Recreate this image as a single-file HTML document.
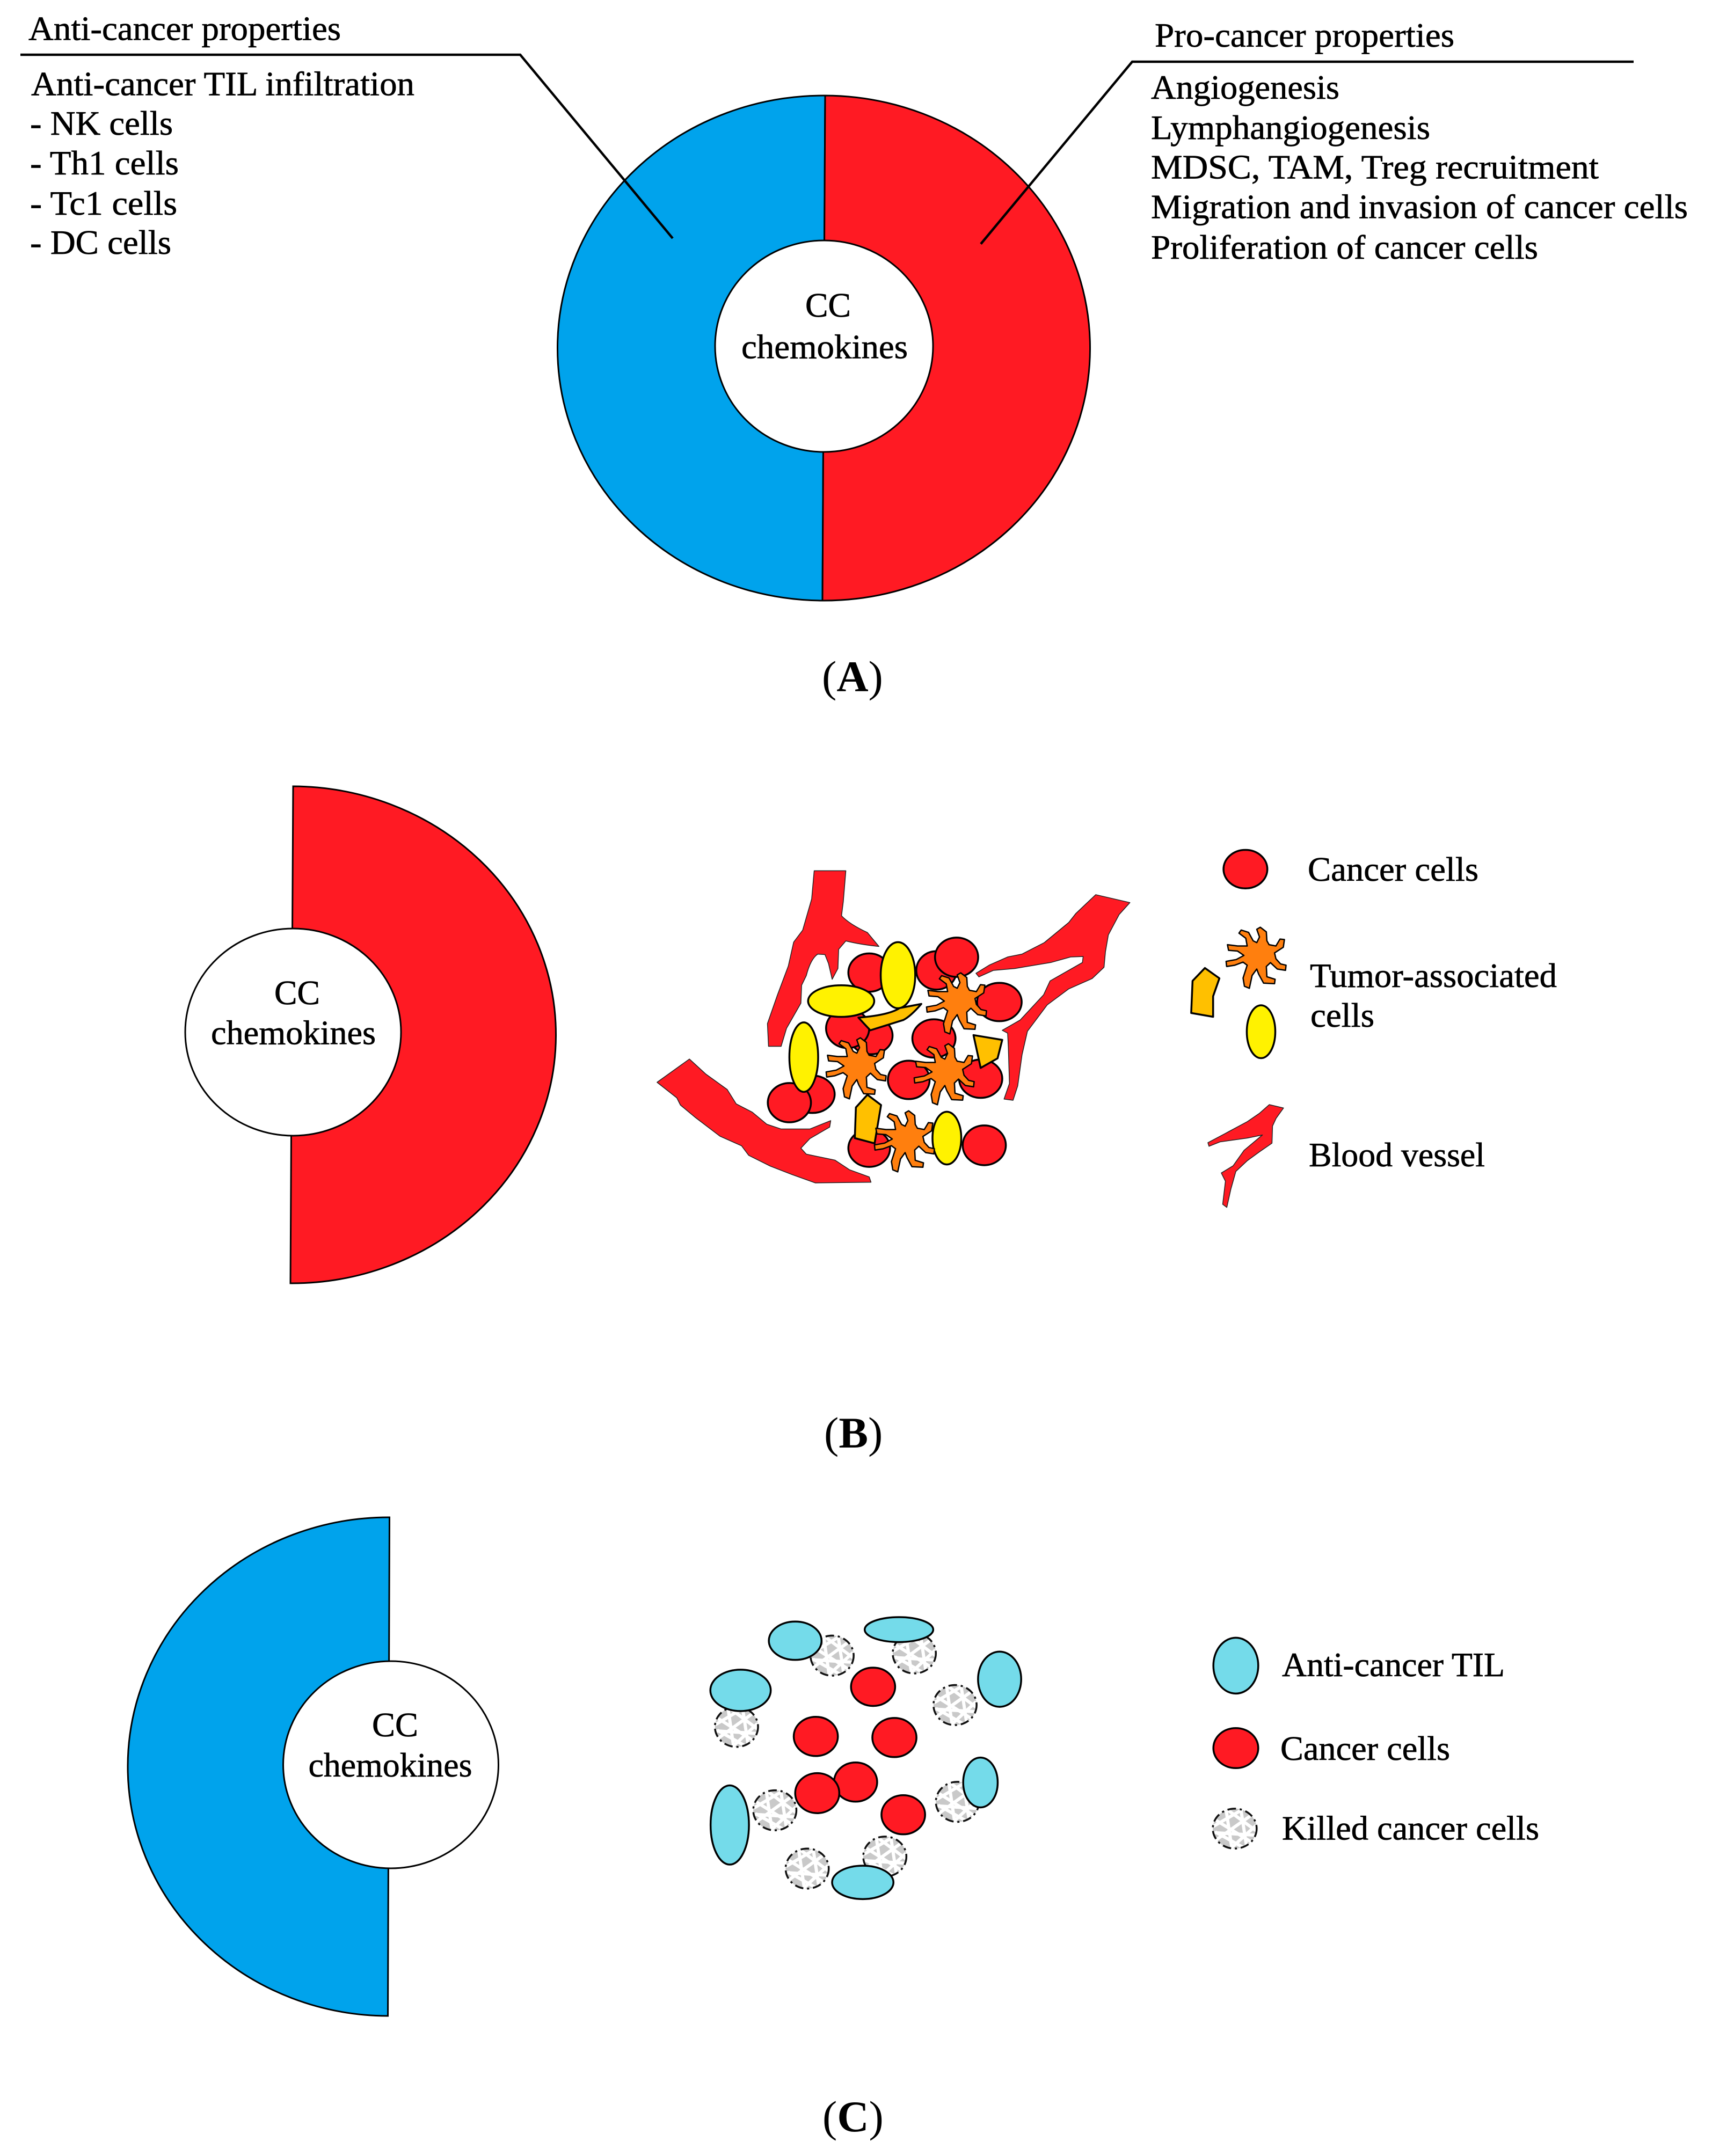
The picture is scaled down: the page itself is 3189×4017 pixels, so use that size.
<!DOCTYPE html>
<html lang="en">
<head>
<meta charset="utf-8">
<title>CC chemokines pro-cancer and anti-cancer properties</title>
<style>
  html, body { margin: 0; padding: 0; background: #fff; }
  svg { display: block; }
  svg * { vector-effect: non-scaling-stroke; }
  text { font-family: "Liberation Serif", "Times New Roman", serif; font-size: 64px; fill: #000; stroke: #000; stroke-width: .7; }
  .cap { font-size: 82px; stroke-width: 0; }
  .red { fill: #ff1a23; }
  .blue { fill: #00a3ec; }
  .ln { stroke: #000; stroke-width: 3; }
  .cell-outline { stroke: #000; stroke-width: 3.5; stroke-linejoin: round; }
  .vessel { fill: #ff1a23; stroke: #222; stroke-width: 1.5; stroke-linejoin: round; }
  .cancer { fill: #ff1a23; }
  .yellow { fill: #fff200; }
  .gold { fill: #ffc000; }
  .orange { fill: #ff7f0e; }
  .til { fill: #74dbea; }
</style>
</head>
<body>
<svg xmlns="http://www.w3.org/2000/svg" width="3189" height="4017" viewBox="0 0 3189 4017">
  <defs>
    <path id="star" class="orange cell-outline" style="stroke-width:2.5" transform="scale(.51,.478) translate(-375,-490)"
      d="M340,445 L335,415 L310,395 L318,383 L345,392 L362,425 L375,432 L385,410 L375,380 L388,372 L410,390 L412,425 L420,440 L445,445 L460,418 L476,420 L472,450 L440,472 L445,495 L462,515 L482,520 L480,540 L450,535 L425,510 L410,525 L412,565 L442,575 L440,592 L400,590 L382,555 L375,535 L358,560 L348,610 L330,602 L325,570 L340,520 L325,508 L295,520 L265,525 L263,505 L300,498 L328,482 L305,465 L272,462 L268,440 L305,445 Z"/>
    <g id="killed">
      <circle r="90" fill="#c9c9c9"/>
      <g stroke="#fff" stroke-width="6" fill="none">
        <line x1="-88" y1="-45" x2="70" y2="62"/>
        <line x1="-80" y1="15" x2="35" y2="85"/>
        <line x1="-30" y1="-85" x2="88" y2="10"/>
        <line x1="70" y1="-62" x2="-75" y2="50"/>
        <line x1="30" y1="-85" x2="-88" y2="-10"/>
        <line x1="88" y1="-15" x2="-15" y2="88"/>
        <line x1="-35" y1="-82" x2="-12" y2="88"/>
        <line x1="25" y1="-88" x2="48" y2="76"/>
        <line x1="-88" y1="18" x2="88" y2="30"/>
      </g>
      <circle r="90" fill="none" stroke="#111" stroke-width="3.5" stroke-dasharray="16 7 4 7"/>
    </g>
  </defs>

  <rect width="3189" height="4017" fill="#fff"/>

  <!-- Panel A -->
  <g>
    <path class="blue ln" d="M1537,178 A496,470.5 0 0 0 1532,1119 Z"/>
    <path class="red ln" d="M1537,178 A496,470.5 0 0 1 1532,1119 Z"/>
    <ellipse cx="1535" cy="645" rx="203" ry="197" fill="#fff" class="ln"/>
    <text x="1500" y="590" textLength="85" lengthAdjust="spacingAndGlyphs">CC</text>
    <text x="1381" y="667.5" textLength="310" lengthAdjust="spacingAndGlyphs">chemokines</text>

    <polyline points="38,102 969,102 1253,444" fill="none" stroke="#000" stroke-width="4.5"/>
    <polyline points="1827,454.5 2109,115 3043,115" fill="none" stroke="#000" stroke-width="4.5"/>

    <text x="53" y="74.6" textLength="582" lengthAdjust="spacingAndGlyphs">Anti-cancer properties</text>
    <text x="58" y="177.5" textLength="714" lengthAdjust="spacingAndGlyphs">Anti-cancer TIL infiltration</text>
    <text x="56" y="251" textLength="266" lengthAdjust="spacingAndGlyphs">- NK cells</text>
    <text x="56" y="325" textLength="277" lengthAdjust="spacingAndGlyphs">- Th1 cells</text>
    <text x="56" y="400" textLength="274" lengthAdjust="spacingAndGlyphs">- Tc1 cells</text>
    <text x="56" y="473" textLength="263" lengthAdjust="spacingAndGlyphs">- DC cells</text>

    <text x="2151" y="87" textLength="558" lengthAdjust="spacingAndGlyphs">Pro-cancer properties</text>
    <text x="2144" y="184" textLength="351" lengthAdjust="spacingAndGlyphs">Angiogenesis</text>
    <text x="2144" y="259" textLength="520" lengthAdjust="spacingAndGlyphs">Lymphangiogenesis</text>
    <text x="2144" y="332.5" textLength="834" lengthAdjust="spacingAndGlyphs">MDSC, TAM, Treg recruitment</text>
    <text x="2144" y="406.5" textLength="1000" lengthAdjust="spacingAndGlyphs">Migration and invasion of cancer cells</text>
    <text x="2144" y="482" textLength="721" lengthAdjust="spacingAndGlyphs">Proliferation of cancer cells</text>

    <text class="cap" x="1531" y="1288">(<tspan font-weight="bold">A</tspan>)</text>
  </g>

  <!-- Panel B -->
  <g>
    <path class="red ln" d="M546,1465 A492,463 0 0 1 541,2391 Z"/>
    <ellipse cx="546" cy="1923" rx="201" ry="193" fill="#fff" class="ln"/>
    <text x="511" y="1871" textLength="85" lengthAdjust="spacingAndGlyphs">CC</text>
    <text x="393" y="1945.6" textLength="307" lengthAdjust="spacingAndGlyphs">chemokines</text>

    <g transform="translate(1100,1550) scale(.6698,.4464)">
      <path class="vessel" d="M622,162 L710,162 L703,290 L698,350 Q720,385 770,420 L802,478 Q750,470 710,455 L690,490 L688,570 L672,615 L662,550 L652,512 L632,510 Q612,530 600,600 L587,640 L585,715 L545,820 L530,895 L495,895 L492,800 L520,680 L550,560 L565,460 L590,410 L615,280 Z"/>
      <path class="vessel" d="M1405,262 L1500,295 L1470,345 L1440,430 L1432,500 L1428,565 L1395,612 L1330,655 L1270,722 L1215,832 L1200,930 L1188,1060 L1175,1120 L1150,1115 L1165,1050 L1162,900 L1160,840 L1145,828 L1195,785 L1260,680 L1278,622 L1368,545 L1370,520 L1335,522 L1280,545 L1180,570 L1120,578 L1080,605 L1072,590 L1110,555 L1160,522 L1200,510 L1262,462 L1330,378 L1350,340 Z"/>
      <path class="vessel" d="M275,948 L320,1010 L380,1075 L405,1135 L450,1170 L490,1220 L530,1240 L610,1240 L668,1205 L665,1232 L610,1280 L585,1320 L600,1345 L680,1370 L720,1410 L775,1440 L780,1462 L625,1465 L560,1430 L500,1395 L440,1350 L420,1310 L360,1270 L290,1190 L250,1140 L240,1110 L185,1045 Z"/>

      <ellipse class="cancer cell-outline" cx="775" cy="587" rx="58" ry="80"/>
      <ellipse class="cancer cell-outline" cx="962" cy="578" rx="56" ry="80"/>
      <ellipse class="cancer cell-outline" cx="1018" cy="523" rx="60" ry="82"/>
      <ellipse class="cancer cell-outline" cx="1137" cy="710" rx="62" ry="80"/>
      <ellipse class="cancer cell-outline" cx="780" cy="850" rx="60" ry="78"/>
      <ellipse class="cancer cell-outline" cx="715" cy="820" rx="60" ry="82"/>
      <ellipse class="cancer cell-outline" cx="955" cy="862" rx="60" ry="80"/>
      <ellipse class="cancer cell-outline" cx="885" cy="1035" rx="58" ry="80"/>
      <ellipse class="cancer cell-outline" cx="1085" cy="1030" rx="60" ry="80"/>
      <ellipse class="cancer cell-outline" cx="617" cy="1095" rx="62" ry="78"/>
      <ellipse class="cancer cell-outline" cx="553" cy="1130" rx="60" ry="82"/>
      <ellipse class="cancer cell-outline" cx="775" cy="1320" rx="58" ry="78"/>
      <ellipse class="cancer cell-outline" cx="1095" cy="1308" rx="60" ry="83"/>

      <ellipse class="yellow cell-outline" cx="855" cy="598" rx="48" ry="138"/>
      <ellipse class="yellow cell-outline" cx="697" cy="706" rx="92" ry="66"/>
      <ellipse class="yellow cell-outline" cx="593" cy="940" rx="40" ry="145"/>
      <ellipse class="yellow cell-outline" cx="991" cy="1278" rx="40" ry="110"/>

      <path class="gold cell-outline" d="M745,775 Q830,765 860,735 L920,718 Q890,770 870,785 L778,828 Z"/>
      <path class="gold cell-outline" d="M1065,848 L1145,868 L1132,945 L1085,985 Z"/>
      <path class="gold cell-outline" d="M770,1097 L808,1140 L790,1300 L735,1278 L738,1150 Z"/>
    </g>
    <use href="#star" transform="translate(1783,1869)"/>
    <use href="#star" transform="translate(1596,1990)"/>
    <use href="#star" transform="translate(1760,2001)"/>
    <use href="#star" transform="translate(1686,2126)"/>

    <g transform="translate(2150,1550) scale(.5102,.4785)">
      <ellipse class="cancer cell-outline" cx="333" cy="145" rx="80" ry="75"/>
      <path class="gold cell-outline" d="M185,530 L238,570 L215,640 L215,720 L135,705 L140,580 Z"/>
      <ellipse class="yellow cell-outline" cx="390" cy="778" rx="52" ry="103"/>
      <path class="vessel" d="M420,1062 L472,1075 L445,1115 L432,1145 L430,1212 L385,1245 L340,1280 L298,1322 L280,1390 L265,1462 L250,1450 L260,1360 L245,1328 L288,1300 L328,1240 L395,1180 L340,1192 L240,1207 L200,1224 L196,1210 L258,1175 L340,1128 L385,1095 Z"/>
    </g>
    <use href="#star" transform="translate(2341,1784)"/>

    <text x="2436" y="1641" textLength="318" lengthAdjust="spacingAndGlyphs">Cancer cells</text>
    <text x="2440" y="1839" textLength="460" lengthAdjust="spacingAndGlyphs">Tumor-associated</text>
    <text x="2441" y="1913" textLength="119" lengthAdjust="spacingAndGlyphs">cells</text>
    <text x="2438" y="2173" textLength="328" lengthAdjust="spacingAndGlyphs">Blood vessel</text>

    <text class="cap" x="1535" y="2697">(<tspan font-weight="bold">B</tspan>)</text>
  </g>

  <!-- Panel C -->
  <g>
    <path class="blue ln" d="M725.5,2827 A486,464.5 0 0 0 722.5,3756 Z"/>
    <ellipse cx="728" cy="3288" rx="200.5" ry="193" fill="#fff" class="ln"/>
    <text x="693" y="3235" textLength="86" lengthAdjust="spacingAndGlyphs">CC</text>
    <text x="574.5" y="3310" textLength="305" lengthAdjust="spacingAndGlyphs">chemokines</text>

    <g transform="translate(1250,2950) scale(.4464,.4146)">
      <use href="#killed" transform="translate(672,325)"/>
      <use href="#killed" transform="translate(1015,315)"/>
      <use href="#killed" transform="translate(273,645)"/>
      <use href="#killed" transform="translate(1185,547)"/>
      <use href="#killed" transform="translate(433,1020)"/>
      <use href="#killed" transform="translate(1195,982)"/>
      <use href="#killed" transform="translate(892,1228)"/>
      <use href="#killed" transform="translate(568,1282)"/>

      <ellipse class="til cell-outline" cx="518" cy="258" rx="110" ry="86"/>
      <ellipse class="til cell-outline" cx="951" cy="208" rx="143" ry="56"/>
      <ellipse class="til cell-outline" cx="290" cy="481" rx="126" ry="93"/>
      <ellipse class="til cell-outline" cx="1371" cy="431" rx="90" ry="124"/>
      <ellipse class="til cell-outline" cx="1291" cy="895" rx="72" ry="112"/>
      <ellipse class="til cell-outline" cx="245" cy="1086" rx="80" ry="178"/>
      <ellipse class="til cell-outline" cx="800" cy="1344" rx="128" ry="75"/>

      <ellipse class="cancer cell-outline" cx="843" cy="465" rx="92" ry="86"/>
      <ellipse class="cancer cell-outline" cx="604" cy="688" rx="92" ry="88"/>
      <ellipse class="cancer cell-outline" cx="932" cy="693" rx="92" ry="88"/>
      <ellipse class="cancer cell-outline" cx="770" cy="893" rx="90" ry="88"/>
      <ellipse class="cancer cell-outline" cx="610" cy="943" rx="92" ry="90"/>
      <ellipse class="cancer cell-outline" cx="969" cy="1040" rx="91" ry="88"/>
    </g>

    <ellipse class="til cell-outline" cx="2302" cy="3103.4" rx="41.8" ry="52"/>
    <ellipse class="cancer cell-outline" cx="2302" cy="3257" rx="41.8" ry="37.3"/>
    <use href="#killed" transform="translate(2300,3407) scale(.454,.413)"/>

    <text x="2388" y="3123" textLength="415" lengthAdjust="spacingAndGlyphs">Anti-cancer TIL</text>
    <text x="2385" y="3279" textLength="316" lengthAdjust="spacingAndGlyphs">Cancer cells</text>
    <text x="2388" y="3427.6" textLength="479" lengthAdjust="spacingAndGlyphs">Killed cancer cells</text>

    <text class="cap" x="1532" y="3971">(<tspan font-weight="bold">C</tspan>)</text>
  </g>
</svg>
</body>
</html>
